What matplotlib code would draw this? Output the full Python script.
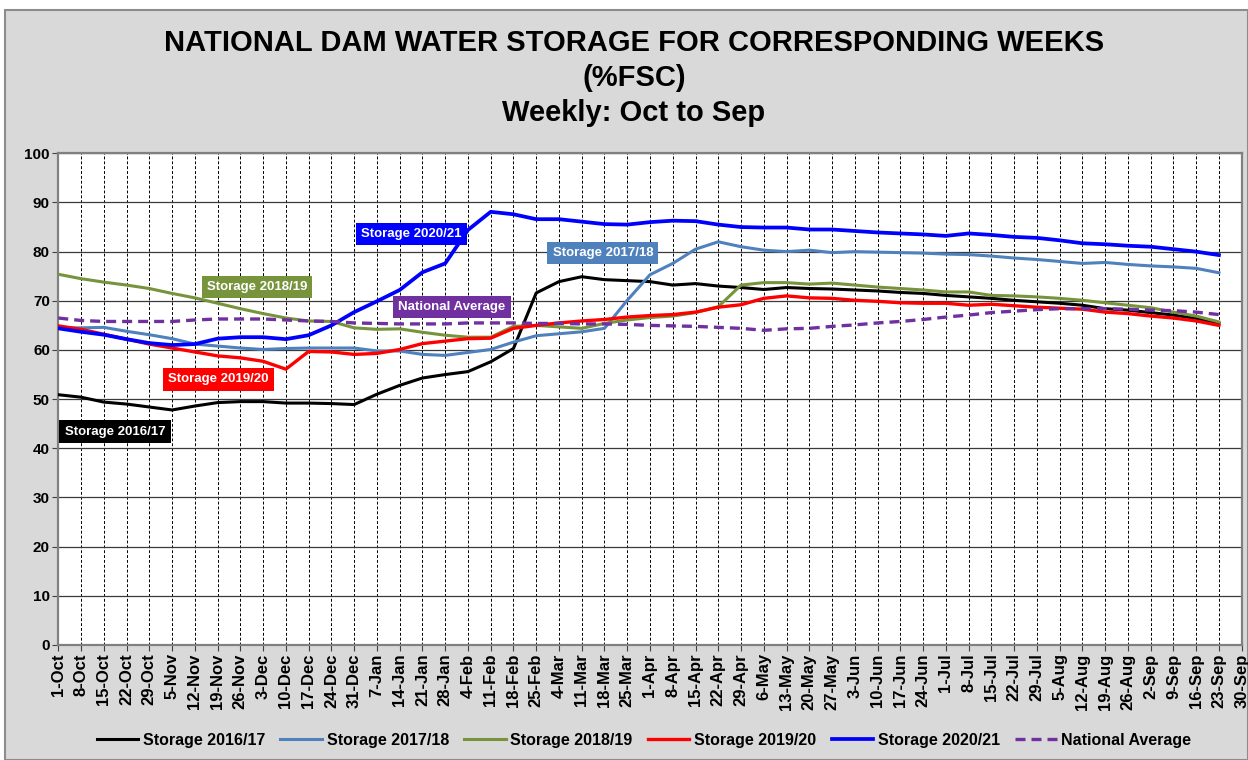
import matplotlib
matplotlib.use("Agg")
import matplotlib.pyplot as plt
from matplotlib.patches import Rectangle

plt.rcParams['font.family'] = ['Liberation Sans', 'DejaVu Sans']

# weekly tick labels, Oct to Sep
weeks = ["1-Oct", "8-Oct", "15-Oct", "22-Oct", "29-Oct", "5-Nov", "12-Nov", "19-Nov",
         "26-Nov", "3-Dec", "10-Dec", "17-Dec", "24-Dec", "31-Dec", "7-Jan", "14-Jan",
         "21-Jan", "28-Jan", "4-Feb", "11-Feb", "18-Feb", "25-Feb", "4-Mar", "11-Mar",
         "18-Mar", "25-Mar", "1-Apr", "8-Apr", "15-Apr", "22-Apr", "29-Apr", "6-May",
         "13-May", "20-May", "27-May", "3-Jun", "10-Jun", "17-Jun", "24-Jun", "1-Jul",
         "8-Jul", "15-Jul", "22-Jul", "29-Jul", "5-Aug", "12-Aug", "19-Aug", "26-Aug",
         "2-Sep", "9-Sep", "16-Sep", "23-Sep", "30-Sep"]

# storage levels (%FSC) per week
s1617 = [50.9, 50.4, 49.4, 49.0, 48.4, 47.8, 48.6, 49.3, 49.5, 49.5, 49.2, 49.2, 49.1,
         48.9, 51.0, 52.8, 54.3, 55.0, 55.6, 57.6, 60.3, 71.6, 73.9, 74.9, 74.3, 74.1,
         73.9, 73.2, 73.5, 73.0, 72.7, 72.3, 72.7, 72.5, 72.4, 72.2, 72.0, 71.7, 71.5,
         71.1, 70.8, 70.5, 70.1, 69.8, 69.5, 69.1, 68.4, 68.1, 67.6, 67.1, 66.4, 65.4]
s1718 = [64.5, 64.5, 64.6, 63.8, 63.1, 62.3, 61.2, 60.8, 60.4, 60.1, 60.3, 60.4, 60.4,
         60.4, 59.8, 59.8, 59.1, 58.9, 59.5, 60.1, 61.6, 62.9, 63.3, 63.7, 64.4, 70.1,
         75.3, 77.6, 80.5, 82.0, 81.0, 80.3, 80.0, 80.3, 79.8, 80.0, 79.9, 79.8, 79.7,
         79.5, 79.4, 79.1, 78.7, 78.4, 78.0, 77.6, 77.8, 77.4, 77.1, 76.9, 76.6, 75.7]
s1819 = [75.4, 74.5, 73.8, 73.2, 72.5, 71.5, 70.6, 69.5, 68.4, 67.4, 66.5, 65.9, 65.8,
         64.5, 64.2, 64.3, 63.6, 63.0, 62.6, 62.6, 64.8, 65.0, 64.7, 64.4, 65.4, 66.1,
         66.6, 66.9, 67.6, 68.8, 73.2, 73.7, 73.7, 73.4, 73.6, 73.2, 72.8, 72.5, 72.2,
         71.8, 71.8, 71.1, 71.0, 70.8, 70.5, 70.1, 69.6, 69.1, 68.6, 67.7, 66.9, 65.7]
s1920 = [64.9, 64.2, 63.2, 62.2, 61.2, 60.4, 59.6, 58.8, 58.4, 57.7, 56.1, 59.7, 59.6,
         59.1, 59.3, 60.1, 61.3, 61.8, 62.3, 62.4, 64.4, 65.0, 65.5, 65.9, 66.2, 66.7,
         67.0, 67.2, 67.7, 68.7, 69.2, 70.5, 71.0, 70.6, 70.5, 70.1, 69.9, 69.6, 69.5,
         69.5, 69.1, 69.3, 69.0, 68.7, 68.5, 68.3, 67.7, 67.4, 66.9, 66.5, 65.9, 65.0]
s2021 = [64.4, 63.7, 63.1, 62.2, 61.4, 61.0, 61.2, 62.3, 62.6, 62.6, 62.2, 63.0, 65.0,
         67.7, 69.9, 72.2, 75.8, 77.6, 84.4, 88.1, 87.6, 86.6, 86.6, 86.1, 85.6, 85.5,
         86.0, 86.3, 86.2, 85.5, 85.0, 84.9, 84.9, 84.5, 84.5, 84.2, 83.9, 83.7, 83.5,
         83.2, 83.7, 83.4, 83.0, 82.8, 82.3, 81.7, 81.5, 81.2, 81.0, 80.5, 80.0, 79.3]
nat_avg = [66.5, 66.0, 65.8, 65.8, 65.8, 65.8, 66.1, 66.3, 66.3, 66.3, 66.1, 65.9, 65.8,
           65.5, 65.4, 65.3, 65.3, 65.3, 65.5, 65.5, 65.5, 65.4, 65.4, 65.3, 65.3, 65.2,
           65.0, 64.9, 64.8, 64.6, 64.4, 64.0, 64.3, 64.4, 64.8, 65.1, 65.5, 65.8, 66.2,
           66.7, 67.1, 67.6, 67.9, 68.2, 68.4, 68.4, 68.4, 68.3, 68.1, 68.0, 67.7, 67.2]

series = [
    ("Storage 2016/17", s1617, "#000000", "-", 2.2),
    ("Storage 2017/18", s1718, "#4F81BD", "-", 2.2),
    ("Storage 2018/19", s1819, "#77933C", "-", 2.2),
    ("Storage 2019/20", s1920, "#FF0000", "-", 2.4),
    ("Storage 2020/21", s2021, "#0000FF", "-", 2.7),
    ("National Average", nat_avg, "#7030A0", (0, (3, 1.8)), 2.4),
]

fig = plt.figure(figsize=(12.48, 7.6), dpi=100, facecolor="white")
# grey chart background with border
fig.patches.append(Rectangle((5 / 1248, 0), 1 - 5 / 1248, 1 - 10 / 760,
                             transform=fig.transFigure, facecolor="#D9D9D9",
                             edgecolor="#8C8C8C", linewidth=1.5, zorder=-10))

ax = fig.add_axes([58.3 / 1248, 1 - 645 / 760, (1241.7 - 58.3) / 1248, (645 - 153.3) / 760])
ax.set_facecolor("white")

x = list(range(len(s1617)))
for name, vals, col, ls, lw in series:
    ax.plot(x, vals, color=col, linestyle=ls, linewidth=lw, label=name, zorder=3)

ax.set_xlim(0, len(weeks) - 1)
ax.set_ylim(0, 100)
ax.set_yticks(range(0, 101, 10))
ax.set_xticks(range(len(weeks)))
ax.set_xticklabels(weeks, rotation=90, fontsize=12, fontweight="bold")
for lbl in ax.get_yticklabels():
    lbl.set_fontsize(11)
    lbl.set_fontweight("bold")
ax.tick_params(axis="both", direction="out", length=4, width=0.8, color="#404040", pad=2)

ax.yaxis.grid(True, color="#3A3A3A", linewidth=0.9, linestyle="-", zorder=1)
ax.xaxis.grid(True, color="#000000", linewidth=0.7, linestyle=(0, (3, 2)), zorder=1)
ax.set_axisbelow(True)
for sp in ax.spines.values():
    sp.set_color("#808080")
    sp.set_linewidth(1.6)

# inline series labels
tags = [
    ("Storage 2020/21", 15.5, 83.6, "#0000FF"),
    ("Storage 2017/18", 23.93, 79.7, "#4F81BD"),
    ("Storage 2018/19", 8.73, 72.8, "#77933C"),
    ("National Average", 17.3, 68.7, "#7030A0"),
    ("Storage 2019/20", 7.02, 54.0, "#FF0000"),
    ("Storage 2016/17", 2.49, 43.4, "#000000"),
]
for txt, tx, ty, col in tags:
    ax.text(tx, ty, txt, color="white", fontsize=9.5, fontweight="bold",
            ha="center", va="center", zorder=5,
            bbox=dict(boxstyle="square,pad=0.4", facecolor=col, edgecolor="none"))

fig.text(634 / 1248, 1 - 78 / 760,
         "NATIONAL DAM WATER STORAGE FOR CORRESPONDING WEEKS\n(%FSC)\nWeekly: Oct to Sep",
         ha="center", va="center", fontsize=21, fontweight="bold", linespacing=1.3)

fig.legend(loc="center", bbox_to_anchor=(644 / 1248, 1 - 740 / 760), ncol=6,
           frameon=False, prop={"weight": "bold", "size": 11.5}, handlelength=2.6,
           handletextpad=0.3, columnspacing=0.95)

fig.savefig("out.png", dpi=100, facecolor=fig.get_facecolor())
